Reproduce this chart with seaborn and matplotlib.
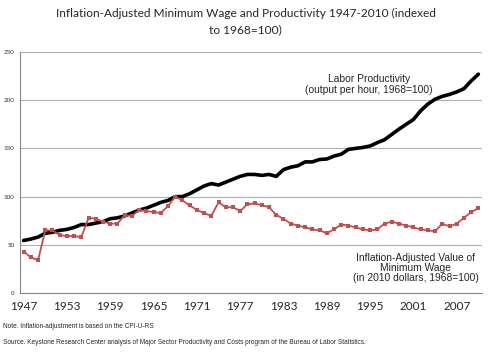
import numpy as np
import pandas as pd
import matplotlib
matplotlib.use("Agg")
import matplotlib.pyplot as plt
import seaborn as sns

# Data (index, 1968 = 100)
years = list(range(1947, 2011))
productivity = [54.5, 56, 58, 62, 63, 65, 66, 68, 71, 71,
                72.5, 74, 77, 78, 80, 83, 86, 88, 91, 94,
                96, 100, 100, 103, 107, 111, 113.5, 112, 115, 118,
                121, 123, 123, 122, 123, 121, 128, 130.5, 132, 136,
                136, 138.5, 139, 142, 144, 149, 150, 151, 152.5, 156,
                159, 164.5, 170, 175, 180, 189, 196, 201, 204, 206,
                208.6, 212, 220, 227]
min_wage = [43, 37, 34, 65, 65, 60, 59, 59, 58, 78,
            77, 74, 72, 72, 81, 80, 86, 85, 84, 83,
            90, 100, 96, 91, 86, 83, 80, 94, 89, 89,
            85, 92, 93, 91, 89, 81, 77, 72, 70, 68,
            66, 65, 62, 66, 71, 70, 68, 66, 65, 66,
            72, 74, 72, 70, 68, 66, 65, 64, 72, 69,
            72, 78, 84, 88]
label_years = list(range(1947, 2011, 6))

df = pd.DataFrame({"year": years, "productivity": productivity, "min_wage": min_wage})

sns.set_style("white")
plt.rcParams["font.family"] = ["Lato", "DejaVu Sans"]

fig = plt.figure(figsize=(4.91, 3.59), dpi=100)
ax = fig.add_axes([20 / 491, 1 - 293 / 359, 462 / 491, 241 / 359])

sns.lineplot(data=df, x="year", y="productivity", color="black", linewidth=2.6, ax=ax)
sns.lineplot(data=df, x="year", y="min_wage", color="#C0504D", linewidth=1.3,
             marker="s", markersize=3.4, markeredgewidth=0, ax=ax)

ax.set_xlim(1946.5, 2010.5)
ax.set_ylim(0, 250)
ax.set_xlabel("")
ax.set_ylabel("")

# category-style axis: tick marks between years, labels on the years
ax.set_xticks([y - 0.5 for y in label_years])
ax.set_xticklabels([])
ax.set_xticks(label_years, minor=True)
ax.set_xticklabels([str(y) for y in label_years], minor=True, fontsize=8.5)
ax.tick_params(axis="x", which="major", length=4, color="#888888", width=0.8)
ax.tick_params(axis="x", which="minor", length=0, pad=6)

ax.set_yticks([0, 50, 100, 150, 200, 250])
ax.tick_params(axis="y", labelsize=4.5, length=2, color="#888888", pad=2, labelcolor="#333333")
ax.grid(axis="y", color="#b0b0b0", linewidth=0.8)
ax.grid(axis="x", visible=False)
for side in ["top", "right"]:
    ax.spines[side].set_visible(False)
for side in ["left", "bottom"]:
    ax.spines[side].set_color("#888888")
    ax.spines[side].set_linewidth(0.8)

fig.text(0.5, 1 - 13 / 359, "Inflation-Adjusted Minimum Wage and Productivity 1947-2010 (indexed",
         ha="center", va="center", fontsize=8.6)
fig.text(0.5, 1 - 30 / 359, "to 1968=100)", ha="center", va="center", fontsize=8.6)

ax.text(1994.8, 216, "Labor Productivity\n(output per hour, 1968=100)", ha="center", va="center",
        fontsize=7.4, family=["Liberation Sans"], linespacing=1.1)
ax.text(2001.3, 26, "Inflation-Adjusted Value of\nMinimum Wage\n(in 2010 dollars, 1968=100)",
        ha="center", va="center", fontsize=7.4, family=["Liberation Sans"], linespacing=1.05)

fig.text(3 / 491, 1 - 327 / 359, "Note. Inflation-adjustment is based on the CPI-U-RS",
         ha="left", va="center", fontsize=4.7, family=["Liberation Sans"])
fig.text(3 / 491, 1 - 343 / 359,
         "Source. Keystone Research Center analysis of Major Sector Productivity and Costs program of the Bureau of Labor Statistics.",
         ha="left", va="center", fontsize=4.7, family=["Liberation Sans"])

fig.savefig("out.png", dpi=100)
